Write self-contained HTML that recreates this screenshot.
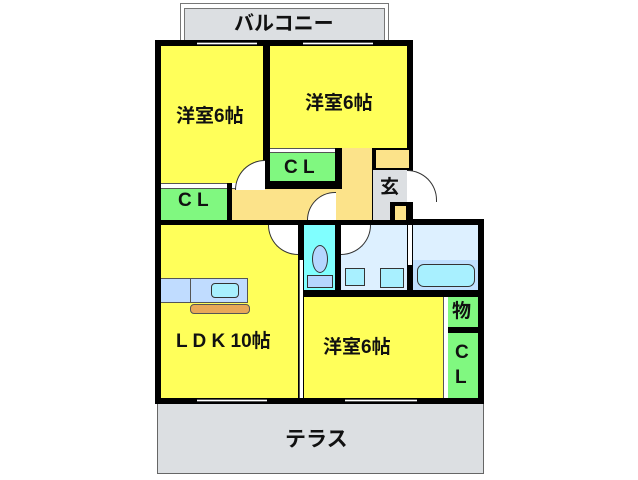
<!DOCTYPE html>
<html><head><meta charset="utf-8"><style>
body{margin:0;background:#fff;width:638px;height:480px;position:relative;overflow:hidden;font-family:"Liberation Sans","Noto Sans CJK JP",sans-serif}
div{position:absolute;box-sizing:border-box}
.k{background:#000}
.y{background:#ffff5a}
.g{background:#80f880}
.t{font-weight:bold;font-size:19px;color:#111;white-space:nowrap;line-height:1}
.w{background:#fff;border-top:1px solid #555;border-bottom:1px solid #555}
</style></head><body>
<!-- balcony -->
<div style="left:180px;top:3px;width:209px;height:40px;border:1px solid #777;border-bottom:none;background:#fff"></div>
<div style="left:184px;top:8px;width:201px;height:34px;background:#dcdfe2;border:1px solid #777;border-bottom:none"></div>
<div class="t" style="left:234px;top:14px;font-size:20px">バルコニー</div>
<!-- terrace -->
<div style="left:157px;top:402px;width:327px;height:72px;background:#dcdfe2;border:1px solid #666"></div>
<div class="t" style="left:285px;top:429px;font-size:21px">テラス</div>
<!-- walls base -->
<div class="k" style="left:155px;top:40px;width:258px;height:185px"></div>
<div class="k" style="left:155px;top:219px;width:329px;height:185px"></div>
<div class="k" style="left:372px;top:148px;width:41px;height:77px"></div>
<!-- rooms -->
<div class="y" style="left:161px;top:46px;width:102px;height:137px"></div>
<div class="y" style="left:270px;top:46px;width:137px;height:102px"></div>
<div class="w" style="left:161px;top:183px;width:66px;height:6px"></div>
<div class="g" style="left:161px;top:189px;width:66px;height:31px"></div>
<div class="w" style="left:270px;top:148px;width:65px;height:5px"></div>
<div class="g" style="left:270px;top:153px;width:65px;height:28px"></div>
<div style="left:232px;top:189px;width:140px;height:31px;background:#fce38a"></div>
<div style="left:342px;top:148px;width:30px;height:72px;background:#fce38a"></div>
<div style="left:232px;top:183px;width:32px;height:6px;background:#fff;border-bottom:1px solid #555"></div>
<div style="left:235px;top:160px;width:30px;height:30px;border:1px solid #333;border-radius:30px 0 0 0;border-right:none;border-bottom:none;background:#fff"></div>
<div style="left:307px;top:192px;width:29px;height:28px;border:1px solid #333;border-radius:29px 0 0 0;border-right:none;border-bottom:none;background:#fff"></div>
<div style="left:376px;top:150px;width:33px;height:18px;background:#fce38a"></div>
<div style="left:373px;top:170px;width:34px;height:50px;background:#dcdfe2"></div>
<div class="k" style="left:390px;top:202px;width:20px;height:18px"></div>
<div style="left:395px;top:206px;width:11px;height:14px;background:#fce38a"></div>
<div style="left:407px;top:170px;width:30px;height:32px;background:#fff;border-top:1px solid #333;border-right:1px solid #333;border-radius:0 30px 0 0"></div>
<div class="t" style="left:380px;top:178px">玄</div>
<!-- lower -->
<div class="y" style="left:161px;top:225px;width:137px;height:173px"></div>
<div style="left:268px;top:225px;width:30px;height:30px;background:#fff;border-left:1px solid #333;border-bottom:1px solid #333;border-radius:0 0 0 30px"></div>
<div style="left:304px;top:225px;width:31px;height:65px;background:#80ffff"></div>
<div style="left:312px;top:245px;width:16px;height:28px;background:#b5d6ff;border:1px solid #333;border-radius:50%"></div>
<div style="left:307px;top:275px;width:26px;height:13px;background:#b5d6ff;border:1px solid #333"></div>
<div style="left:341px;top:225px;width:66px;height:65px;background:#ddf0ff"></div>
<div style="left:341px;top:225px;width:30px;height:30px;background:#fff;border-right:1px solid #333;border-bottom:1px solid #333;border-radius:0 0 30px 0"></div>
<div style="left:345px;top:268px;width:20px;height:18px;background:#a8f0ff;border:1px solid #333"></div>
<div style="left:380px;top:268px;width:24px;height:20px;background:#a8f0ff;border:1px solid #333"></div>
<div style="left:413px;top:225px;width:65px;height:35px;background:#ddf0ff"></div>
<div style="left:413px;top:260px;width:65px;height:30px;background:#c0e0ff"></div>
<div style="left:417px;top:264px;width:58px;height:23px;background:#a8f0ff;border:1px solid #333;border-radius:7px"></div>
<div style="left:408px;top:225px;width:4px;height:40px;background:#fff"></div>
<div class="y" style="left:304px;top:297px;width:139px;height:101px"></div>
<div style="left:443px;top:297px;width:5px;height:101px;background:#fff;border-left:1px solid #555"></div>
<div class="g" style="left:448px;top:297px;width:30px;height:30px"></div>
<div class="g" style="left:448px;top:333px;width:30px;height:65px"></div>
<div style="left:299px;top:260px;width:4px;height:138px;background:#fff;border-left:1px solid #555"></div>
<!-- kitchen -->
<div style="left:161px;top:278px;width:87px;height:25px;background:#c0dcff;border:1px solid #555;border-left:none"></div>
<div style="left:190px;top:278px;width:1px;height:25px;background:#555"></div>
<div style="left:211px;top:283px;width:28px;height:15px;background:#a8f0ff;border:1px solid #333;border-radius:4px"></div>
<div style="left:190px;top:304px;width:60px;height:10px;background:#e8a858;border:1px solid #555;border-radius:4px"></div>
<!-- windows -->
<div class="w" style="left:197px;top:42px;width:60px;height:3px"></div>
<div class="w" style="left:303px;top:42px;width:70px;height:3px"></div>
<div class="w" style="left:197px;top:399px;width:70px;height:3px"></div>
<div class="w" style="left:345px;top:399px;width:72px;height:3px"></div>
<!-- labels -->
<div class="t" style="left:176px;top:107px">洋室6帖</div>
<div class="t" style="left:305px;top:94px">洋室6帖</div>
<div class="t" style="left:178px;top:191px">C L</div>
<div class="t" style="left:284px;top:158px">C L</div>
<div class="t" style="left:176px;top:332px">L D K 10帖</div>
<div class="t" style="left:323px;top:338px">洋室6帖</div>
<div class="t" style="left:452px;top:302px">物</div>
<div class="t" style="left:455px;top:343px">C</div>
<div class="t" style="left:455px;top:368px">L</div>
</body></html>
